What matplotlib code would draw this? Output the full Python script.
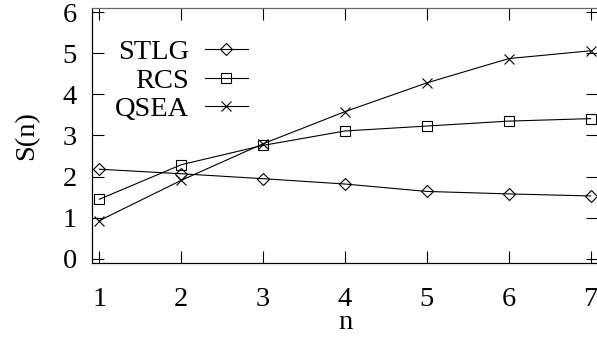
import matplotlib
matplotlib.use('Agg')
import matplotlib.pyplot as plt

plt.rcParams['font.family'] = ['Liberation Serif', 'DejaVu Serif']

n = [1, 2, 3, 4, 5, 6, 7]
stlg = [2.18, 2.07, 1.95, 1.82, 1.64, 1.58, 1.53]
rcs = [1.45, 2.29, 2.76, 3.11, 3.23, 3.35, 3.41]
qsea = [0.93, 1.91, 2.80, 3.58, 4.28, 4.87, 5.06]
yticks = [0, 1, 2, 3, 4, 5, 6]

fs = 20.5
fig = plt.figure(figsize=(5.97, 3.39), dpi=100)
ax = fig.add_axes([92/597, 1 - 263/339, (598 - 92)/597, (263 - 8)/339])

ax.plot(n, stlg, color='black', lw=0.8, marker='D', ms=6, mfc='none', mec='black', mew=0.8, label='STLG')
ax.plot(n, rcs, color='black', lw=0.8, marker='s', ms=7.5, mfc='none', mec='black', mew=0.8, label='RCS')
ax.plot(n, qsea, color='black', lw=0.8, marker='x', ms=7.5, mec='black', mew=0.8, label='QSEA')

ax.set_xlim(0.91, 7.09)
ax.set_ylim(-0.1, 6.1)
ax.set_xticks(n)
ax.set_yticks(yticks)
ax.tick_params(direction='in', length=8.5, width=0.8, top=True, right=True, labelsize=fs, color='black')
ax.tick_params(axis='x', pad=17)
ax.tick_params(axis='y', pad=11)
for s in ax.spines.values():
    s.set_linewidth(0.9)
ax.spines['top'].set_color('#666666')

ax.set_xlabel('n', fontsize=fs, labelpad=-1)
ax.set_ylabel('S(n)', fontsize=fs, labelpad=17)

ax.legend(loc='upper left', bbox_to_anchor=(0.006, 0.955), frameon=False, fontsize=fs,
          markerfirst=False, handlelength=1.5, handletextpad=0.55, labelspacing=0.08,
          borderaxespad=0.3)

fig.savefig('out.png', dpi=100)
